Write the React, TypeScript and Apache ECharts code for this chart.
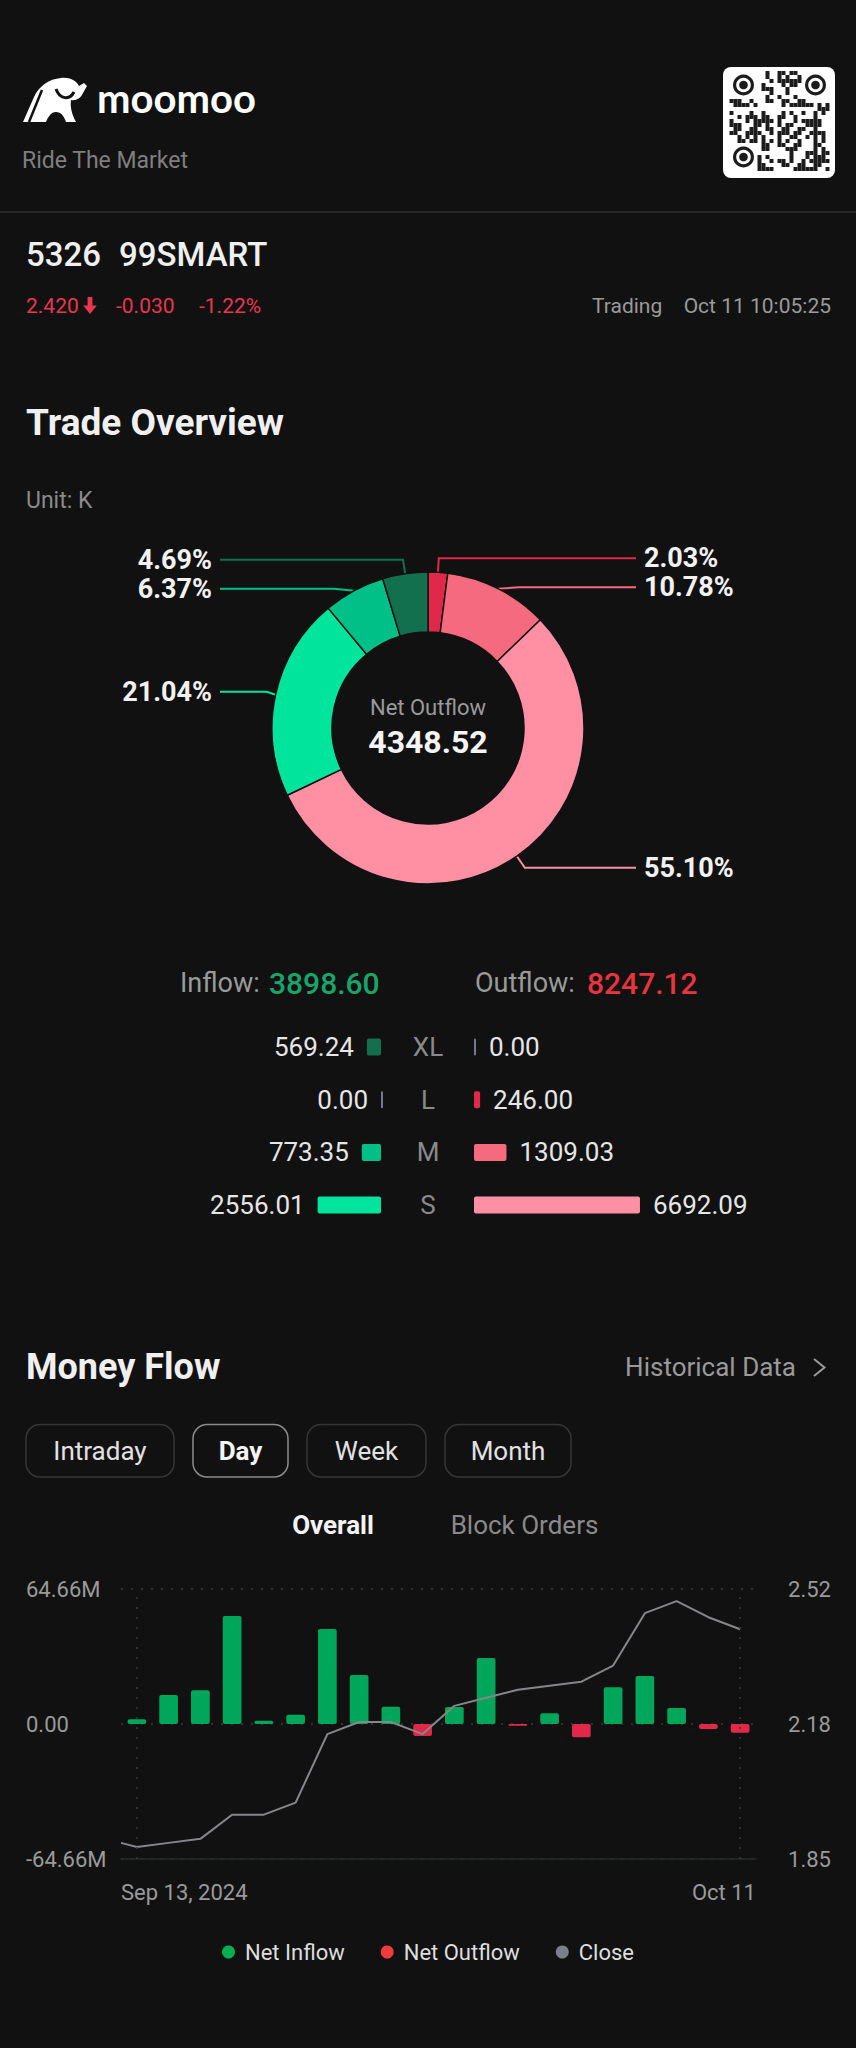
import React, { useEffect, useRef } from 'react';
import * as echarts from 'echarts';

// ---------------- data ----------------
const sizeCats = ['XL', 'L', 'M', 'S'];
const inflowK = [569.24, 0.0, 773.35, 2556.01];
const outflowK = [0.0, 246.0, 1309.03, 6692.09];

const flowDates = ['Sep 13', 'Sep 17', 'Sep 18', 'Sep 19', 'Sep 20', 'Sep 23', 'Sep 24', 'Sep 25', 'Sep 26', 'Sep 27',
  'Sep 30', 'Oct 1', 'Oct 2', 'Oct 3', 'Oct 4', 'Oct 7', 'Oct 8', 'Oct 9', 'Oct 10', 'Oct 11'];
const netFlowM = [2.24, 13.89, 16.12, 51.73, 1.6, 4.47, 45.5, 23.47, 8.3, -5.75,
  8.14, 31.6, -0.8, 5.11, -6.38, 17.56, 22.99, 7.66, -2.39, -4.15];
const prevClose = 1.89;
const closePrices = [1.88, 1.89, 1.90, 1.96, 1.96, 1.99, 2.16, 2.19, 2.19, 2.16,
  2.23, 2.25, 2.27, 2.28, 2.29, 2.33, 2.46, 2.49, 2.45, 2.42];
const moneyTickLabels = ['-64.66M', '0.00', '64.66M'];
const priceTickLabels = ['1.85', '2.18', '2.52'];
const dateEdgeLabels = ['Sep 13, 2024', 'Oct 11'];

const stockCode = '5326';
const stockName = '99SMART';
const lastPrice = '2.420';
const priceChange = '-0.030';
const pctChange = '-1.22%';
const marketStatus = 'Trading';
const quoteTime = 'Oct 11 10:05:25';

// ---------------- styles ----------------
const BG = '#111112';
const FONT = 'Roboto, "Noto Sans", sans-serif';
const inColors = ['#13704f', '#0d9466', '#00c087', '#00e59b'];
const outColors = ['#b3203d', '#e0294a', '#f56a7e', '#ff8fa3'];
const zeroColor = '#6f7a96';
const upColor = '#00a65a';
const downColor = '#e0294a';
const closeColor = '#86878b';
const quoteRed = '#e8364f';
const gray = '#9a9a9a';

const moneyMax = 64.66;
const priceMin = 1.85;
const priceMax = 2.52;
const breakdownMax = 10000;
const pieCenter = [428, 728];

// logo shape
echarts.graphic.registerShape(
  'bull',
  echarts.graphic.extendPath(
    'M2 45 L13 20 C18 9 28 2 40 1 C48 0 55 3 58 9 L63 6 L66 9 L62 16 C60 21 55 24 50 23 C49 30 51 38 55 45 L45 45 C43 39 40 35 35 35 C30 35 27 40 25 45 Z',
    {}
  )
);

function T(text: string, x: number, y: number, size: number, fill: string, opts: any = {}) {
  return {
    type: 'text',
    x,
    y,
    silent: true,
    style: {
      text,
      fill,
      fontSize: size,
      fontFamily: opts.family || FONT,
      fontWeight: opts.weight || 'normal',
      align: opts.align || 'left',
      verticalAlign: 'middle',
    },
  };
}

function qrElements() {
  const els: any[] = [];
  els.push({ type: 'rect', silent: true, shape: { x: 723, y: 67, width: 112, height: 111, r: 8 }, style: { fill: '#ffffff' } });
  const N = 25, cell = 4, ox = 729.5, oy = 71;
  for (let r = 0; r < N; r++) {
    for (let c = 0; c < N; c++) {
      if ((r < 7 && c < 7) || (r < 7 && c >= N - 7) || (r >= N - 7 && c < 7)) continue;
      const h = (r * 131 + c * 71 + r * c * 17 + ((r * 7) ^ (c * 3))) % 13;
      if (h < 6) {
        els.push({ type: 'rect', silent: true, shape: { x: ox + c * cell, y: oy + r * cell, width: cell, height: cell }, style: { fill: '#1c1c1c' } });
      }
    }
  }
  const finders = [[743.5, 85], [815.5, 85], [743.5, 157]];
  finders.forEach(([cx, cy]) => {
    els.push({ type: 'ring', silent: true, shape: { cx, cy, r: 10.5, r0: 7.3 }, style: { fill: '#1c1c1c' } });
    els.push({ type: 'circle', silent: true, shape: { cx, cy, r: 4.3 }, style: { fill: '#1c1c1c' } });
  });
  return els;
}

function buttons() {
  const btns = [
    { label: 'Intraday', x: 26, w: 148, active: false },
    { label: 'Day', x: 193, w: 95, active: true },
    { label: 'Week', x: 307, w: 119, active: false },
    { label: 'Month', x: 445, w: 126, active: false },
  ];
  const els: any[] = [];
  btns.forEach((b) => {
    els.push({
      type: 'rect', silent: true,
      shape: { x: b.x, y: 1424.5, width: b.w, height: 52.5, r: 14 },
      style: { fill: BG, stroke: b.active ? '#8c8c8c' : '#363636', lineWidth: 1.5 },
    });
    els.push(T(b.label, b.x + b.w / 2, 1451, 26, b.active ? '#f4f4f4' : '#e2e2e2', { align: 'center', weight: b.active ? 'bold' : 'normal' }));
  });
  return els;
}

function buildOption() {
  const totalIn = inflowK.reduce((a, b) => a + b, 0);
  const totalOut = outflowK.reduce((a, b) => a + b, 0);
  const totalFlow = totalIn + totalOut;
  const netOut = totalOut - totalIn;

  const pieData = [
    ...sizeCats.map((c, i) => ({ name: c + ' Outflow', value: outflowK[i], itemStyle: { color: outColors[i] } })),
    ...sizeCats.map((c, i) => ({ name: c + ' Inflow', value: inflowK[i], itemStyle: { color: inColors[i] } })).reverse(),
  ].filter((d) => d.value > 0);

  const inBarData = inflowK.map((v, i) => ({ value: v, itemStyle: { color: v > 0 ? inColors[i] : zeroColor } }));
  const outBarData = outflowK.map((v, i) => ({ value: v, itemStyle: { color: v > 0 ? outColors[i] : zeroColor } }));

  const inflowSeries = netFlowM.map((v) => (v >= 0 ? v : '-'));
  const outflowSeries = netFlowM.map((v) => (v < 0 ? v : '-'));
  const closeLine = [[-0.5, prevClose], ...closePrices.map((p, i) => [i, p])];

  const dotted = { type: [2, 8], color: '#3a3a3a', width: 1.5 };

  const graphic: any[] = [
    // header
    { type: 'bull', x: 21, y: 77, silent: true, style: { fill: '#ffffff' } },
    { type: 'line', silent: true, shape: { x1: 29, y1: 122, x2: 42, y2: 90 }, style: { stroke: BG, lineWidth: 2.5 } },
    { type: 'bezierCurve', silent: true, shape: { x1: 56, y1: 89, cpx1: 60, cpy1: 100, cpx2: 70, cpy2: 100, x2: 74, y2: 92 }, style: { stroke: BG, lineWidth: 3, fill: 'none' } },
    T('moomoo', 97, 97.5, 40, '#ffffff', { family: 'Lato, Roboto, sans-serif', weight: 'bold' }),
    T('Ride The Market', 22, 160, 23, '#7f7f7f'),
    ...qrElements(),
    { type: 'line', silent: true, shape: { x1: 0, y1: 212, x2: 856, y2: 212 }, style: { stroke: '#262626', lineWidth: 2 } },
    T(stockCode, 26, 254.5, 33, '#f0f0f0', { weight: 500 }),
    T(stockName, 119, 254.5, 33, '#f0f0f0', { weight: 500 }),
    T(lastPrice, 26, 306, 21, quoteRed),
    {
      type: 'polygon', silent: true,
      shape: { points: [[87.6, 297], [92.4, 297], [92.4, 305.5], [96.8, 305.5], [90, 314], [83.2, 305.5], [87.6, 305.5]] },
      style: { fill: quoteRed },
    },
    T(priceChange, 116, 306, 21, quoteRed),
    T(pctChange, 199, 306, 21, quoteRed),
    T(marketStatus, 592, 306, 21, gray),
    T(quoteTime, 831, 306, 21, gray, { align: 'right' }),
    // trade overview
    T('Trade Overview', 26, 422, 37, '#f0f0f0', { weight: 'bold' }),
    T('Unit: K', 26, 500.5, 23, '#8a8a8a'),
    T('Net Outflow', pieCenter[0], 707, 22, gray, { align: 'center' }),
    T(netOut.toFixed(2), pieCenter[0], 741.5, 32, '#f5f5f5', { align: 'center', weight: 'bold' }),
    T('Inflow:', 180, 983, 27, gray),
    T(totalIn.toFixed(2), 269, 983, 30, '#17a56c', { weight: 500 }),
    T('Outflow:', 475, 983, 27, gray),
    T(totalOut.toFixed(2), 587, 983, 30, '#e8343f', { weight: 500 }),
    // money flow
    T('Money Flow', 26, 1367, 36, '#f0f0f0', { weight: 'bold' }),
    T('Historical Data', 796, 1367, 26, gray, { align: 'right' }),
    { type: 'polyline', silent: true, shape: { points: [[814, 1359], [824.5, 1367.5], [814, 1376]] }, style: { stroke: gray, lineWidth: 2, fill: 'none' } },
    ...buttons(),
    T('Overall', 333, 1525, 26, '#f4f4f4', { align: 'center', weight: 'bold' }),
    T('Block Orders', 524.5, 1525, 26, '#8a8a8a', { align: 'center' }),
  ];

  return {
    backgroundColor: BG,
    animation: false,
    textStyle: { fontFamily: FONT },
    grid: [
      { left: 133, top: 1020.7, width: 248, height: 210.7, containLabel: false, outerBoundsMode: 'none' },
      { left: 474, top: 1020.7, width: 248, height: 210.7, containLabel: false, outerBoundsMode: 'none' },
      { left: 121, top: 1589, width: 635, height: 270, containLabel: false, outerBoundsMode: 'none' },
    ],
    xAxis: [
      { gridIndex: 0, type: 'value', min: 0, max: breakdownMax, inverse: true, show: false },
      { gridIndex: 1, type: 'value', min: 0, max: breakdownMax, show: false },
      {
        gridIndex: 2, type: 'category', data: flowDates, boundaryGap: true,
        axisLine: { show: true, onZero: false, lineStyle: { color: '#262b28', width: 1.5 } },
        axisTick: { show: false }, axisLabel: { show: false }, splitLine: { show: false },
      },
      {
        gridIndex: 2, type: 'value', min: -0.5, max: flowDates.length - 0.5, interval: flowDates.length,
        position: 'bottom',
        axisLine: { show: false }, axisTick: { show: false }, splitLine: { show: false },
        axisLabel: {
          formatter: (v: number, i: number) => dateEdgeLabels[i] ?? '',
          alignMinLabel: 'left', alignMaxLabel: 'right',
          color: gray, fontSize: 22, margin: 22, fontFamily: FONT,
        },
      },
    ],
    yAxis: [
      {
        gridIndex: 0, type: 'category', data: sizeCats, inverse: true, position: 'right',
        axisLine: { show: false }, axisTick: { show: false }, splitLine: { show: false },
        axisLabel: { align: 'center', margin: 47, color: '#8a8a8a', fontSize: 26, fontFamily: FONT },
      },
      { gridIndex: 1, type: 'category', data: sizeCats, inverse: true, show: false },
      {
        gridIndex: 2, type: 'value', min: -moneyMax, max: moneyMax, interval: moneyMax, position: 'left',
        axisLine: { show: false }, axisTick: { show: false },
        splitLine: { show: true, lineStyle: dotted },
        axisLabel: {
          formatter: (v: number, i: number) => moneyTickLabels[i] ?? '',
          align: 'left', margin: 95, color: gray, fontSize: 22, padding: [10, 0, 0, 0], fontFamily: FONT,
        },
      },
      {
        gridIndex: 2, type: 'value', min: priceMin, max: priceMax, interval: (priceMax - priceMin) / 2, position: 'right',
        axisLine: { show: false }, axisTick: { show: false }, splitLine: { show: false },
        axisLabel: {
          formatter: (v: number, i: number) => priceTickLabels[i] ?? '',
          align: 'right', margin: 75, color: gray, fontSize: 22, padding: [10, 0, 0, 0], fontFamily: FONT,
        },
      },
    ],
    legend: {
      data: [
        { name: 'Net Inflow', itemStyle: { color: '#00b04f' } },
        { name: 'Net Outflow', itemStyle: { color: '#ee3b3b' } },
        { name: 'Close', itemStyle: { color: '#7c7f88' } },
      ],
      left: 'center',
      top: 1936,
      icon: 'circle',
      itemWidth: 13,
      itemHeight: 13,
      itemGap: 36,
      selectedMode: false,
      textStyle: { color: '#dedede', fontSize: 22, fontFamily: FONT, padding: [0, 0, 0, 5] },
    },
    series: [
      {
        type: 'pie',
        center: pieCenter,
        radius: [96, 156],
        startAngle: 90,
        avoidLabelOverlap: true,
        data: pieData,
        emphasis: { disabled: true },
        itemStyle: { borderColor: BG, borderWidth: 1.5 },
        label: {
          show: true,
          position: 'outside',
          formatter: (p: any) => ((p.value / totalFlow) * 100).toFixed(2) + '%',
          color: '#f2f2f2',
          fontSize: 27,
          fontWeight: 'bold',
          fontFamily: FONT,
          lineHeight: 21,
        },
        labelLine: { show: true, length: 14, length2: 20, lineStyle: { width: 2 } },
        labelLayout: (params: any) => {
          const pts = params.labelLinePoints;
          if (!pts) return {};
          const rect = params.labelRect;
          const isLeft = rect.x + rect.width / 2 < pieCenter[0];
          const endX = isLeft ? pieCenter[0] - 208 : pieCenter[0] + 208;
          return {
            x: isLeft ? endX - 8 : endX + 8,
            align: isLeft ? 'right' : 'left',
            labelLinePoints: [pts[0], pts[1], [endX, pts[1][1]]],
          };
        },
      },
      {
        type: 'bar', xAxisIndex: 0, yAxisIndex: 0, data: inBarData, barWidth: 17, barMinHeight: 2, clip: false,
        itemStyle: { borderRadius: 2 },
        label: { show: true, position: 'left', distance: 13, formatter: (p: any) => Number(p.value).toFixed(2), color: '#e6e6e6', fontSize: 26, fontFamily: FONT },
        emphasis: { disabled: true },
      },
      {
        type: 'bar', xAxisIndex: 1, yAxisIndex: 1, data: outBarData, barWidth: 17, barMinHeight: 2, clip: false,
        itemStyle: { borderRadius: 2 },
        label: { show: true, position: 'right', distance: 13, formatter: (p: any) => Number(p.value).toFixed(2), color: '#e6e6e6', fontSize: 26, fontFamily: FONT },
        emphasis: { disabled: true },
      },
      {
        name: 'Net Inflow', type: 'bar', xAxisIndex: 2, yAxisIndex: 2, data: inflowSeries, barWidth: 18.7,
        itemStyle: { color: upColor, borderRadius: 2 },
        emphasis: { disabled: true },
        markLine: {
          silent: true, symbol: ['none', 'none'], label: { show: false },
          lineStyle: dotted,
          data: [{ xAxis: flowDates[0] }, { xAxis: flowDates[flowDates.length - 1] }],
        },
      },
      {
        name: 'Net Outflow', type: 'bar', xAxisIndex: 2, yAxisIndex: 2, data: outflowSeries, barWidth: 18.7, barGap: '-100%',
        itemStyle: { color: downColor, borderRadius: 2 },
        emphasis: { disabled: true },
      },
      {
        name: 'Close', type: 'line', xAxisIndex: 3, yAxisIndex: 3, data: closeLine,
        symbol: 'none', showSymbol: false,
        lineStyle: { color: closeColor, width: 2 },
        itemStyle: { color: closeColor },
        emphasis: { disabled: true },
      },
    ],
    graphic,
  };
}

export default function App() {
  const ref = useRef<HTMLDivElement>(null);
  useEffect(() => {
    if (!ref.current) return;
    document.body.style.background = BG;
    const chart = echarts.init(ref.current, undefined, { renderer: 'svg', width: 856, height: 2048 });
    chart.setOption(buildOption() as any);
    return () => chart.dispose();
  }, []);
  return (
    <div style={{ position: 'absolute', left: 0, top: 0, width: 856, height: 2048, background: BG }}>
      <div ref={ref} style={{ width: 856, height: 2048 }} />
    </div>
  );
}
